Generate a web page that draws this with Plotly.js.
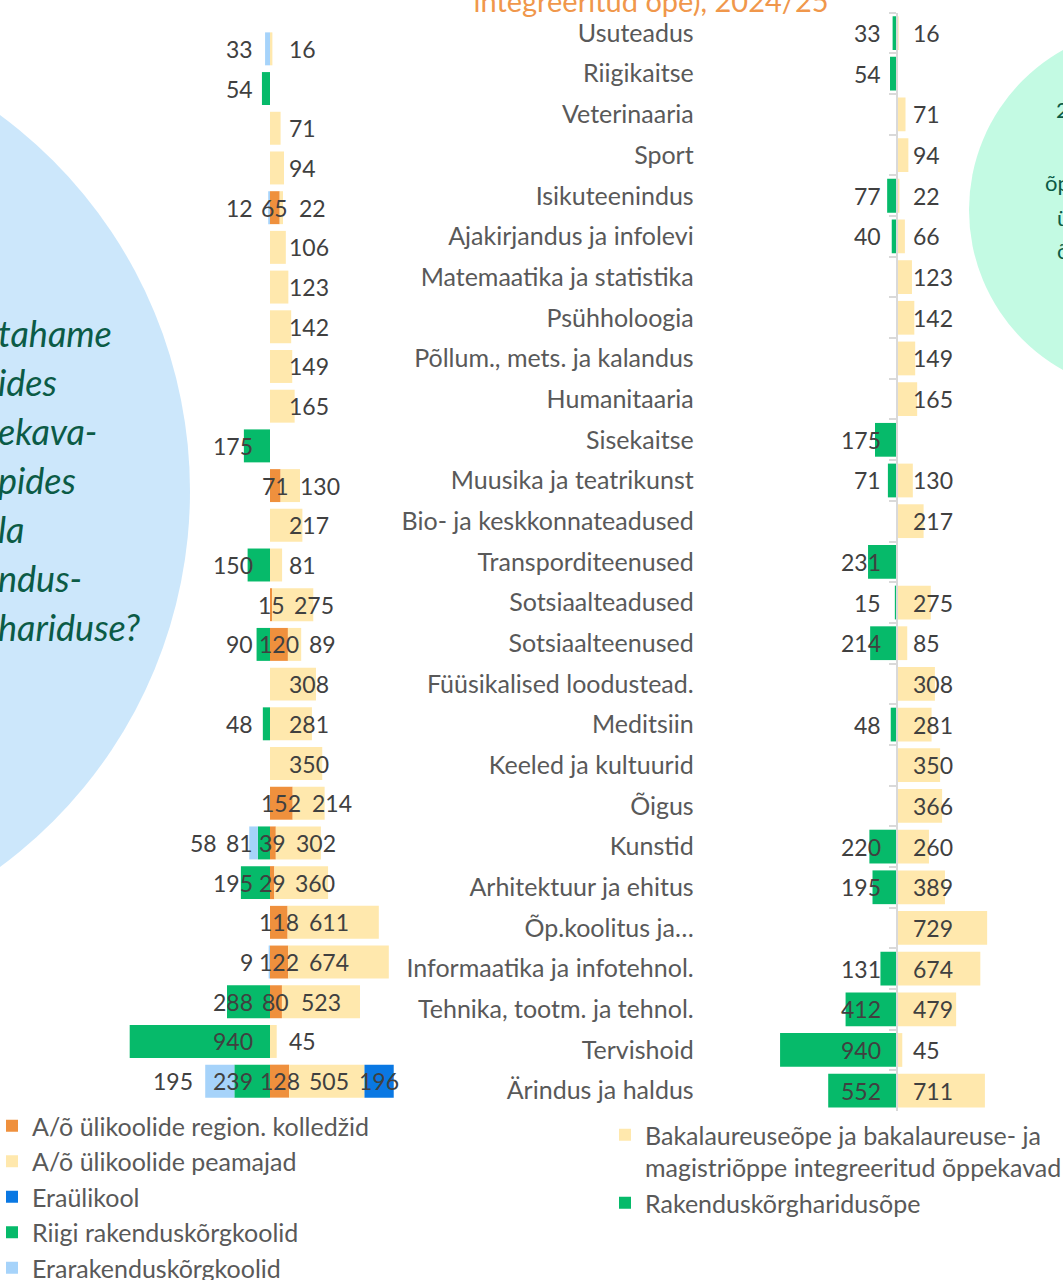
<!DOCTYPE html>
<html>
<head>
<meta charset="utf-8">
<script src="https://cdn.plot.ly/plotly-3.0.1.min.js"></script>
<style>html,body{margin:0;padding:0;background:#fff;} #chart{width:1063px;height:1280px;}</style>
</head>
<body>
<div id="chart"></div>
<script>
// ---------------- DATA ----------------
const categories = ["Usuteadus","Riigikaitse","Veterinaaria","Sport","Isikuteenindus","Ajakirjandus ja infolevi","Matemaatika ja statistika","Psühholoogia","Põllum., mets. ja kalandus","Humanitaaria","Sisekaitse","Muusika ja teatrikunst","Bio- ja keskkonnateadused","Transporditeenused","Sotsiaalteadused","Sotsiaalteenused","Füüsikalised loodustead.","Meditsiin","Keeled ja kultuurid","Õigus","Kunstid","Arhitektuur ja ehitus","Õp.koolitus ja…","Informaatika ja infotehnol.","Tehnika, tootm. ja tehnol.","Tervishoid","Ärindus ja haldus"];

// Left chart (by institution type)
const kolledzid  = [0,0,0,0,65,0,0,0,0,0,0,71,0,0,15,120,0,0,0,152,39,29,118,122,80,0,128];
const peamajad   = [16,0,71,94,22,106,123,142,149,165,0,130,217,81,275,89,308,281,350,214,302,360,611,674,523,45,505];
const eraulikool = [0,0,0,0,0,0,0,0,0,0,0,0,0,0,0,0,0,0,0,0,0,0,0,0,0,0,196];
const riigiRak   = [0,54,0,0,0,0,0,0,0,0,175,0,0,150,0,90,0,48,0,0,81,195,0,0,288,940,239];
const eraRak     = [33,0,0,0,12,0,0,0,0,0,0,0,0,0,0,0,0,0,0,0,58,0,0,9,0,0,195];

// Right chart (by study level)
const bakalaureus = [16,0,71,94,22,66,123,142,149,165,0,130,217,0,275,85,308,281,350,366,260,389,729,674,479,45,711];
const rakendus    = [33,54,0,0,77,40,0,0,0,0,175,71,0,231,15,214,0,48,0,0,220,195,0,131,412,940,552];

const seriesNamesLeft = ["A/õ ülikoolide region. kolledžid","A/õ ülikoolide peamajad","Eraülikool","Riigi rakenduskõrgkoolid","Erarakenduskõrgkoolid"];
const seriesNamesRight = ["Bakalaureuseõpe ja bakalaureuse- ja<br>magistriõppe integreeritud õppekavad","Rakenduskõrgharidusõpe"];
const titleText = "integreeritud õpe), 2024/25";
const circleTextLeft = ["tahame","ides","ekava-","pides","la","ndus-","hariduse?"];
const circleTextRight = ["2","õp","ü","õ"];

// ---------------- STYLE / LAYOUT CONSTANTS ----------------
const W = 1063, H = 1280;
const FONT = "Lato, 'Open Sans', sans-serif";
const C = {orange:'#EF903D', yellow:'#FFE8AD', blue:'#0A78E3', green:'#06BA6A', lblue:'#A6D3FA'};
const L = {zero:270, upp:6.7, x0:0, x1:450, top:29, bottom:1101};
const R = {zero:896.7, upp:8.06, x0:700, x1:1063, top:12.7, bottom:1111};
const LP = 17;          // label padding from bar base (px)
const LABEL_SIZE = 23;
const DIGIT = 13.3;     // approx digit width (px)

const pxL = v => L.zero + v / L.upp;
const tw = s => String(s).length * DIGIT;
const neg = arr => arr.map(v => -v);

function barTrace(vals, name, color, xa, ya, legend){
  return {type:'bar', orientation:'h', x:vals, y:categories, name:name,
    marker:{color:color, line:{width:0}}, xaxis:xa, yaxis:ya, legend:legend,
    hoverinfo:'skip', textposition:'none'};
}

const traces = [
  barTrace(kolledzid, seriesNamesLeft[0], C.orange, 'x','y','legend'),
  barTrace(peamajad, seriesNamesLeft[1], C.yellow, 'x','y','legend'),
  barTrace(eraulikool, seriesNamesLeft[2], C.blue, 'x','y','legend'),
  barTrace(neg(riigiRak), seriesNamesLeft[3], C.green, 'x','y','legend'),
  barTrace(neg(eraRak), seriesNamesLeft[4], C.lblue, 'x','y','legend'),
  barTrace(bakalaureus, seriesNamesRight[0], C.yellow, 'x2','y2','legend2'),
  barTrace(neg(rakendus), seriesNamesRight[1], C.green, 'x2','y2','legend2')
];

// ---------------- LABELS (annotations from data) ----------------
const annotations = [];
const lab = o => Object.assign({showarrow:false, yanchor:'middle',
  font:{family:FONT, size:LABEL_SIZE, color:'#404040'}}, o);

categories.forEach((c,i) => {
  const k = kolledzid[i], p = peamajad[i], e = eraulikool[i], g = riigiRak[i], b = eraRak[i];
  let orangeRight = -Infinity;
  if (k > 0) {
    annotations.push(lab({xref:'x', yref:'y', x:k/2, y:c, xanchor:'center', text:String(k)}));
    orangeRight = pxL(k/2) + tw(k)/2;
  }
  if (p > 0) {
    const basePx = pxL(k);
    const left = Math.max(basePx + LP, orangeRight + 8);
    annotations.push(lab({xref:'x', yref:'y', x:k, y:c, xanchor:'left', xshift:left - basePx, text:String(p)}));
  }
  if (e > 0) {
    annotations.push(lab({xref:'x', yref:'y', x:k + p + e/2, y:c, xanchor:'center', text:String(e)}));
  }
  let greenLeft = Infinity;
  if (g > 0) {
    annotations.push(lab({xref:'x', yref:'y', x:0, y:c, xanchor:'right', xshift:-LP + 2, text:String(g)}));
    greenLeft = L.zero - LP - tw(g);
  }
  if (b > 0) {
    const outer = -(g + b);
    const outerPx = pxL(outer);
    const right = Math.min(L.zero - LP + 2, outerPx - 10, greenLeft - 7);
    annotations.push(lab({xref:'x', yref:'y', x:outer, y:c, xanchor:'right', xshift:right - outerPx, text:String(b)}));
  }
  if (rakendus[i] > 0) {
    annotations.push(lab({xref:'x2', yref:'y2', x:0, y:c, xanchor:'right', xshift:-14, text:String(rakendus[i])}));
  }
  if (bakalaureus[i] > 0) {
    annotations.push(lab({xref:'x2', yref:'y2', x:0, y:c, xanchor:'left', xshift:14, text:String(bakalaureus[i])}));
  }
});

// circle texts
circleTextLeft.forEach((t, j) => {
  annotations.push({xref:'paper', yref:'paper', x:-4/W, y:1 - (333 + j*49)/H, xanchor:'left', yanchor:'middle',
    showarrow:false, text:'<i>' + t + '</i>', font:{family:FONT, size:36, color:'#0B5B46'}});
});
const rightCirclePos = [[1054,109],[1043,183],[1055,217],[1055,251]];
circleTextRight.forEach((t, j) => {
  annotations.push({xref:'paper', yref:'paper', x:rightCirclePos[j][0]/W, y:1 - rightCirclePos[j][1]/H,
    xanchor:'left', yanchor:'middle', showarrow:false, text:t, font:{family:FONT, size:22, color:'#0B5B46'}});
});

const shapes = [
  {type:'circle', xref:'paper', yref:'paper', layer:'below',
   x0:(-277-467)/W, x1:(-277+467)/W, y0:1-(491+467)/H, y1:1-(491-467)/H,
   fillcolor:'#CCE7FB', line:{width:0}},
  {type:'circle', xref:'paper', yref:'paper', layer:'below',
   x0:(1152-183)/W, x1:(1152+183)/W, y0:1-(210+183)/H, y1:1-(210-183)/H,
   fillcolor:'#C3FAE3', line:{width:0}}
];

const catAxis = {type:'category', categoryorder:'array', categoryarray:categories,
  range:[categories.length - 0.5, -0.5], showgrid:false, zeroline:false, fixedrange:true};

const layout = {
  width:W, height:H,
  margin:{l:0, r:0, t:0, b:0, pad:0, autoexpand:false},
  paper_bgcolor:'#FFFFFF', plot_bgcolor:'rgba(0,0,0,0)',
  barmode:'relative', bargap:0.17,
  font:{family:FONT, size:22, color:'#404040'},
  title:{text:titleText, font:{family:FONT, size:29, color:'#F0974B'},
    x:651/W, xanchor:'center', xref:'paper', yref:'container', y:1 - 12/H, yanchor:'bottom', automargin:false},
  xaxis:{domain:[L.x0/W, L.x1/W], range:[(L.x0 - L.zero)*L.upp, (L.x1 - L.zero)*L.upp],
    visible:false, fixedrange:true, anchor:'y'},
  yaxis:Object.assign({}, catAxis, {domain:[1 - L.bottom/H, 1 - L.top/H], visible:false, anchor:'x'}),
  xaxis2:{domain:[R.x0/W, R.x1/W], range:[(R.x0 - R.zero)*R.upp, (R.x1 - R.zero)*R.upp],
    visible:false, fixedrange:true, anchor:'y2'},
  yaxis2:Object.assign({}, catAxis, {domain:[1 - R.bottom/H, 1 - R.top/H],
    anchor:'free', position:R.zero/W, side:'left',
    showline:true, linecolor:'#D9D9D9', linewidth:2,
    ticks:'outside', tickson:'boundaries', ticklen:7, tickwidth:2, tickcolor:'#D9D9D9',
    ticklabelstandoff:197, tickfont:{family:FONT, size:25, color:'#595959'}}),
  legend:{x:0, xanchor:'left', y:1 - 1103/H, yanchor:'top', traceorder:'normal', indentation:-8,
    bgcolor:'rgba(0,0,0,0)', font:{family:FONT, size:25, color:'#595959'}, itemclick:false, itemdoubleclick:false},
  legend2:{x:613/W, xanchor:'left', y:1 - 1112/H, yanchor:'top', traceorder:'normal', valign:'top', indentation:-8,
    bgcolor:'rgba(0,0,0,0)', font:{family:FONT, size:25, color:'#595959'}, itemclick:false, itemdoubleclick:false},
  showlegend:true,
  shapes:shapes,
  annotations:annotations
};

Plotly.newPlot('chart', traces, layout, {staticPlot:true, displayModeBar:false});
</script>
</body>
</html>
